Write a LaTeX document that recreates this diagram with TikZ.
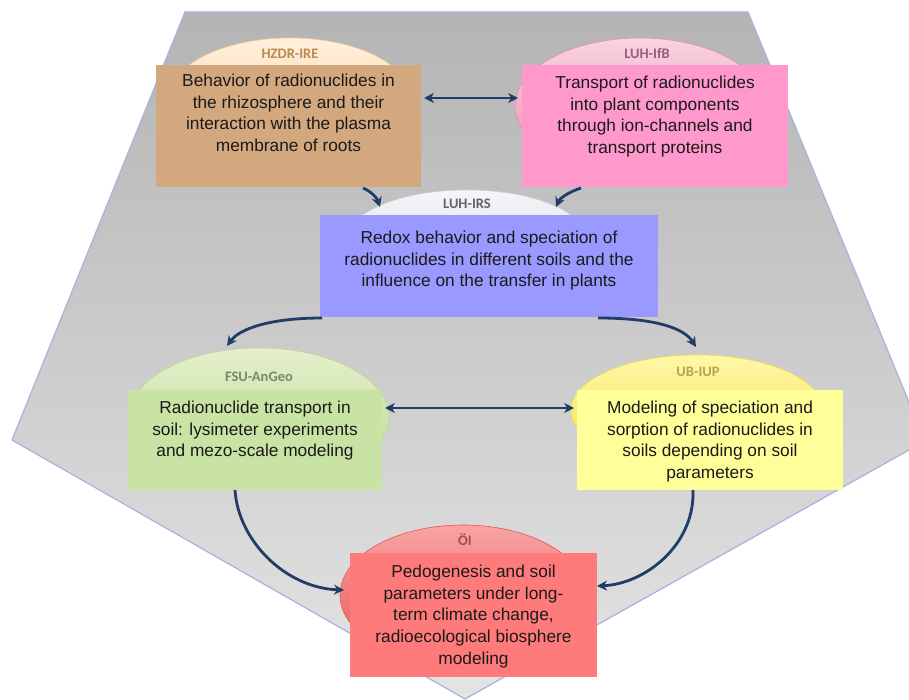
\documentclass[tikz,border=0pt]{standalone}
\usepackage{fontspec}
\setmainfont{Liberation Sans}
\newfontfamily\orgfont{Carlito}
\usetikzlibrary{shapes.geometric,calc,arrows.meta}

% panel
\definecolor{penTop}{HTML}{B4B4B4}
\definecolor{penBot}{HTML}{E4E4E4}
\definecolor{penEdge}{HTML}{A6B6DE}
% boxes
\definecolor{hzdrFill}{HTML}{D4A87E}
\definecolor{ifbFill}{HTML}{FF99CC}
\definecolor{irsFill}{HTML}{9999FF}
\definecolor{fsuFill}{HTML}{C9E3A5}
\definecolor{ubFill}{HTML}{FFFF99}
\definecolor{oiFill}{HTML}{FF7B7B}
% domes
\definecolor{hzdrTop}{HTML}{FFF0DC}
\definecolor{hzdrBot}{HTML}{F7C998}
\definecolor{ifbTop}{HTML}{F8D4E2}
\definecolor{ifbBot}{HTML}{E88AAE}
\definecolor{irsTop}{HTML}{F6F6FA}
\definecolor{irsBot}{HTML}{D0D0D8}
\definecolor{fsuTop}{HTML}{E4F0CC}
\definecolor{fsuBot}{HTML}{BCD690}
\definecolor{ubTop}{HTML}{FFF7A8}
\definecolor{ubBot}{HTML}{F5E24A}
\definecolor{oiTop}{HTML}{F8A4A4}
\definecolor{oiBot}{HTML}{E85454}
% labels and text
\definecolor{hzdrLab}{HTML}{B98A52}
\definecolor{ifbLab}{HTML}{9E5A7E}
\definecolor{irsLab}{HTML}{5F6470}
\definecolor{fsuLab}{HTML}{7A8A66}
\definecolor{ubLab}{HTML}{B5A74E}
\definecolor{oiLab}{HTML}{A94B4B}
\definecolor{bodyText}{HTML}{1A1A1A}
\definecolor{navy}{HTML}{1F3D66}

\begin{document}
\begin{tikzpicture}[x=1pt,y=-1pt,
  dome/.style 2 args={ellipse, inner sep=0pt, outer sep=0pt,
    minimum width=#1, minimum height=#2, line width=0.6pt},
  panel/.style={draw=none, inner sep=0pt, outer sep=0pt},
  desc/.style={anchor=north, inner sep=0pt, align=center, text=bodyText,
    font=\fontsize{17.3}{21.8}\selectfont},
  orglabel/.style={inner sep=0pt, font=\orgfont\bfseries\fontsize{14.5}{16}\selectfont},
  link/.style={draw=navy, line width=2.8pt, -{Stealth[length=10pt,width=10pt]}},
  twoway/.style={draw=navy, line width=2.8pt,
    {Stealth[length=10pt,width=10pt]}-{Stealth[length=10pt,width=10pt]}}
]
\useasboundingbox (0,0) rectangle (909,700);
\clip (0,0) rectangle (909,700);

% background pentagon
\shade[top color=penTop, bottom color=penBot]
  (185,12) -- (748,12) -- (925,441) -- (465,699) -- (12,440) -- cycle;
\draw[penEdge, line width=1.3pt, line join=round]
  (185,12) -- (748,12) -- (925,441) -- (465,699) -- (12,440) -- cycle;

% domes behind the boxes
\node[dome={244pt}{124pt}, top color=hzdrTop, bottom color=hzdrBot, draw=hzdrBot] (hzdrE) at (290,100) {};
\node[dome={250pt}{136pt}, top color=ifbTop, bottom color=ifbBot, draw=ifbBot] (ifbE) at (640,106) {};
\node[dome={240pt}{100pt}, top color=irsTop, bottom color=irsBot, draw=irsBot] (irsE) at (467,240) {};
\node[dome={260pt}{138pt}, top color=fsuTop, bottom color=fsuBot, draw=fsuBot] (fsuE) at (259,417) {};
\node[dome={252pt}{110pt}, top color=ubTop, bottom color=ubBot, draw=ubBot] (ubE) at (697,410) {};
\node[dome={246pt}{140pt}, top color=oiTop, bottom color=oiBot, draw=oiBot] (oiE) at (463,595) {};

% partner labels
\node[orglabel, text=hzdrLab] (hzdrL) at ($(hzdrE.north)+(0,16)$) {HZDR-IRE};
\node[orglabel, text=ifbLab]  (ifbL)  at ($(ifbE.north)+(7,16)$) {LUH-IfB};
\node[orglabel, text=irsLab]  (irsL)  at ($(irsE.north)+(0,14)$) {LUH-IRS};
\node[orglabel, text=fsuLab]  (fsuL)  at ($(fsuE.north)+(0,29)$) {FSU-AnGeo};
\node[orglabel, text=ubLab]   (ubL)   at ($(ubE.north)+(1,17)$) {UB-IUP};
\node[orglabel, text=oiLab]   (oiL)   at ($(oiE.north)+(2,15)$) {ÖI};

% project boxes
\node[panel, fill=hzdrFill, minimum width=265pt, minimum height=122pt] (hzdr) at (288.5,126) {};
\node[panel, fill=ifbFill,  minimum width=266pt, minimum height=122pt] (ifb)  at (655,126) {};
\node[panel, fill=irsFill,  minimum width=338pt, minimum height=102pt] (irs)  at (489,266) {};
\node[panel, fill=fsuFill,  minimum width=254pt, minimum height=100pt] (fsu)  at (255,440) {};
\node[panel, fill=ubFill,   minimum width=266pt, minimum height=100pt] (ub)   at (710,440) {};
\node[panel, fill=oiFill,   minimum width=247pt, minimum height=124pt] (oi)   at (473.5,615) {};

% box texts
\node[desc] (hzdrT) at ($(hzdr.north)+(0,8.5)$)
  {Behavior of radionuclides in\\the rhizosphere and their\\interaction with the plasma\\membrane of roots};
\node[desc] (ifbT) at ($(ifb.north)+(0,10.5)$)
  {Transport of radionuclides\\into plant components\\through ion-channels and\\transport proteins};
\node[desc] (irsT) at ($(irs.north)+(0,15.5)$)
  {Redox behavior and speciation of\\radionuclides in different soils and the\\influence on the transfer in plants};
\node[desc] (fsuT) at ($(fsu.north)+(0,10.5)$)
  {Radionuclide transport in\\soil: lysimeter experiments\\and mezo-scale modeling};
\node[desc] (ubT) at ($(ub.north)+(0,10.5)$)
  {Modeling of speciation and\\sorption of radionuclides in\\soils depending on soil\\parameters};
\node[desc] (oiT) at ($(oi.north)+(0,11.5)$)
  {Pedogenesis and soil\\parameters under long-\\term climate change,\\radioecological biosphere\\modeling};

% connector end points
\coordinate (hzdrR)  at (424,98);
\coordinate (ifbW)   at (518,98);
\coordinate (hzdrB)  at (363,188);
\coordinate (irsNW)  at (380,207);
\coordinate (ifbB)   at (581,188);
\coordinate (irsNE)  at (556,207);
\coordinate (irsBL)  at (322,318);
\coordinate (fsuTop) at (227,346);
\coordinate (irsBR)  at (598,318);
\coordinate (ubTop)  at (696,347);
\coordinate (fsuR)   at (385,408);
\coordinate (ubW)    at (574,408);
\coordinate (fsuB)   at (235,490);
\coordinate (oiW)    at (344,590);
\coordinate (ubB)    at (693,490);
\coordinate (oiR)    at (597,586);

% connectors
\draw[twoway] (hzdrR) -- (ifbW);
\draw[link] (hzdrB) .. controls (372,192) and (377,198) .. (irsNW);
\draw[link] (ifbB) .. controls (569,192) and (560,198) .. (irsNE);
\draw[link] (irsBL) .. controls (272,318) and (240,328) .. (fsuTop);
\draw[link] (irsBR) .. controls (655,318) and (684,328) .. (ubTop);
\draw[twoway] (fsuR) -- (ubW);
\draw[link] (fsuB) .. controls (238,540) and (285,588) .. (oiW);
\draw[link] (ubB) .. controls (695,545) and (645,584) .. (oiR);
\end{tikzpicture}
\end{document}
